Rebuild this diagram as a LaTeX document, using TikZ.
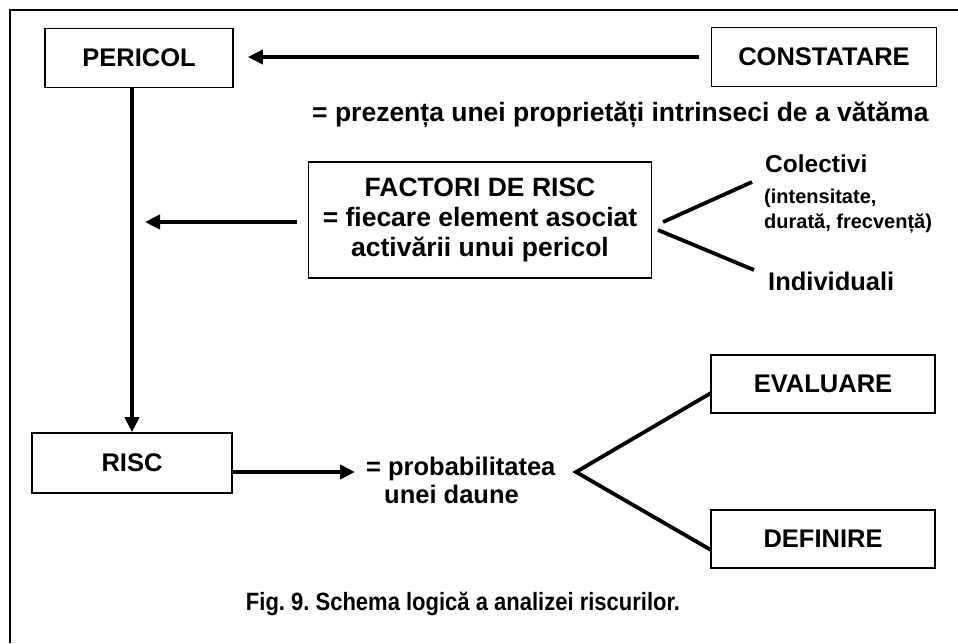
\documentclass[tikz,border=0pt]{standalone}
\usepackage{fontspec}
\setmainfont{Liberation Sans}
\newfontfamily\narrowfont[FakeStretch=0.88]{Liberation Sans}
\usetikzlibrary{arrows.meta}
\frenchspacing
\begin{document}
\begin{tikzpicture}[x=1pt,y=-1pt,
  box/.style={draw,line width=1.6pt,minimum width=#1,minimum height=59pt,inner sep=0pt,
    font=\fontsize{25.5}{30}\selectfont\bfseries},
  box/.default=188pt,
  conn/.style={line width=3.8pt},
  arr/.style={conn,-{Triangle[length=15pt,width=14pt]}},
  lbl/.style={inner sep=0pt,anchor=base west,font=\fontsize{25.5}{30}\selectfont\bfseries},
  small/.style={inner sep=0pt,anchor=base west,font=\fontsize{20}{24}\selectfont\bfseries}]
\useasboundingbox (0,0) rectangle (958,643);
% outer frame (left and top edges)
\draw[line width=1.6pt] (10,643) -- (10,10) -- (958,10);

% boxes
\node[box] (pericol) at (139,58) {PERICOL};
\node[box=225pt] (constatare) at (824,57) {CONSTATARE};
\node[box=343pt,minimum height=116pt,align=center,font=\fontsize{26.5}{30}\selectfont\bfseries]
  (factori) at (480,220)
  {FACTORI DE RISC\\= fiecare element asociat\\activării unui pericol};
\node[box=200pt,minimum height=60pt] (risc) at (132,463) {RISC};
\node[box=224pt,minimum height=58pt] (evaluare) at (823,384) {EVALUARE};
\node[box=224pt,minimum height=58pt] (definire) at (823,539) {DEFINIRE};

% labels
\node[lbl,font=\fontsize{26.5}{30}\selectfont\bfseries] (prezenta) at (312,121)
  {= prezența unei proprietăți intrinseci de a vătăma};
\node[lbl,font=\fontsize{24.5}{30}\selectfont\bfseries] (colectivi) at (765,172) {Colectivi};
\node[small] (intens) at (764,203) {(intensitate,};
\node[small] (durata) at (764,228) {durată, frecvență)};
\node[lbl] (individuali) at (768,290) {Individuali};
\node[lbl] (prob1) at (366,475) {= probabilitatea};
\node[lbl] (prob2) at (384,503) {unei daune};
\node[inner sep=0pt,font=\fontsize{25}{30}\narrowfont\bfseries] (caption) at (463,604)
  {Fig. 9. Schema logică a analizei riscurilor.};

% free ends of the connectors
\coordinate (factorilink) at (145,222);
\coordinate (probtip) at (355,472);
\coordinate (colA) at (663,222);
\coordinate (colB) at (752,182);
\coordinate (indA) at (658,230);
\coordinate (indB) at (754,270);
\coordinate (fork) at (576,472);
\coordinate (evalend) at (711,393);
\coordinate (defend) at (711,550);

% connectors
\draw[arr,shorten <=12pt,shorten >=14pt] (constatare.west) -- (pericol.east |- constatare.west);
\draw[arr] (pericol.south -| risc.north) -- (risc.north);
\draw[arr,shorten <=11pt] (factori.west |- factorilink) -- (factorilink);
\draw[arr] (risc.east |- probtip) -- (probtip);
\draw[conn] (colA) -- (colB);
\draw[conn] (indA) -- (indB);
\draw[conn,line join=miter] (evalend) -- (fork) -- (defend);
\end{tikzpicture}
\end{document}
